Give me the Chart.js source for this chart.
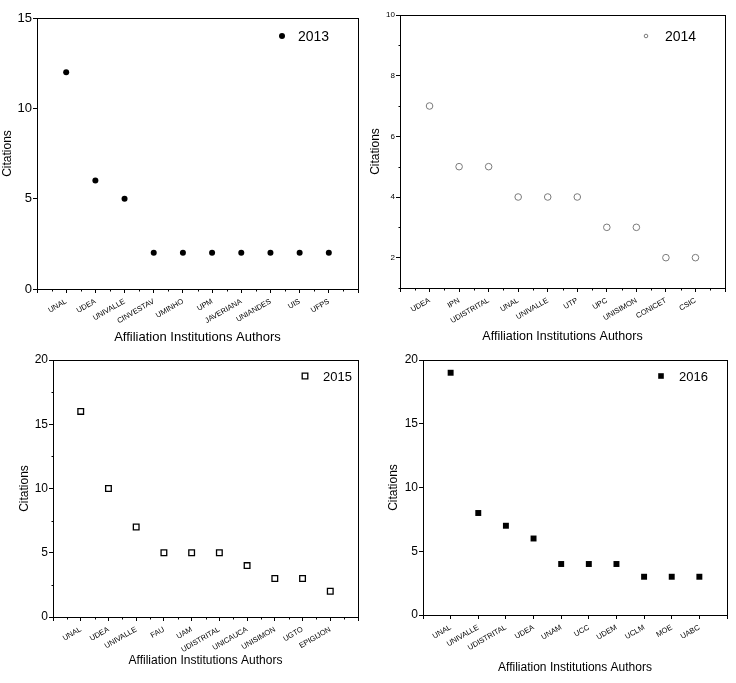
<!DOCTYPE html>
<html><head><meta charset="utf-8">
<script src="https://cdn.jsdelivr.net/npm/chart.js@4.4.1/dist/chart.umd.min.js"></script>
<style>
html,body{margin:0;padding:0;background:#fff;}
body{width:736px;height:683px;position:relative;overflow:hidden;}
canvas{position:absolute;}
</style></head><body>
<canvas id="c2013" width="368" height="345" style="left:0px;top:0px"></canvas>
<canvas id="c2014" width="368" height="345" style="left:368px;top:0px"></canvas>
<canvas id="c2015" width="368" height="338" style="left:0px;top:345px"></canvas>
<canvas id="c2016" width="368" height="338" style="left:368px;top:345px"></canvas>
<script>
// ---------- data ----------
const institutions2013 = ["UNAL","UDEA","UNIVALLE","CINVESTAV","UMINHO","UPM","JAVERIANA","UNIANDES","UIS","UFPS"];
const citations2013    = [12, 6, 5, 2, 2, 2, 2, 2, 2, 2];

const institutions2014 = ["UDEA","IPN","UDISTRITAL","UNAL","UNIVALLE","UTP","UPC","UNISIMON","CONICET","CSIC"];
const citations2014    = [7, 5, 5, 4, 4, 4, 3, 3, 2, 2];

const institutions2015 = ["UNAL","UDEA","UNIVALLE","FAU","UAM","UDISTRITAL","UNICAUCA","UNISIMON","UGTO","EPIGIJON"];
const citations2015    = [16, 10, 7, 5, 5, 5, 4, 3, 3, 2];

const institutions2016 = ["UNAL","UNIVALLE","UDISTRITAL","UDEA","UNAM","UCC","UDEM","UCLM","MOE","UABC"];
const citations2016    = [19, 8, 7, 6, 4, 4, 4, 3, 3, 3];

const yTicks2013 = [0, 5, 10, 15];
const yTicks2014 = [2, 4, 6, 8, 10];
const yTicks2015 = [0, 5, 10, 15, 20];
const yTicks2016 = [0, 5, 10, 15, 20];

const xTitle = "Affiliation Institutions Authors";
const yTitle = "Citations";
const FONT = "'Liberation Sans', Arial, Helvetica, sans-serif";

// ---------- plugins ----------
const framePlugin = {
  id: 'frameBox',
  afterDraw(chart) {
    const a = chart.chartArea, ctx = chart.ctx;
    ctx.save();
    ctx.strokeStyle = '#000'; ctx.lineWidth = 1;
    const l = Math.round(a.left) + 0.5, t = Math.round(a.top) + 0.5;
    const r = Math.round(a.right) + 0.5, b = Math.round(a.bottom) + 0.5;
    ctx.strokeRect(l, t, r - l, b - t);
    // minor ticks
    const o = chart.options.plugins.frameBox || {};
    ctx.beginPath();
    (o.minorX || []).forEach(v => {
      const x = Math.round(chart.scales.x.getPixelForValue(v)) + 0.5;
      ctx.moveTo(x, b); ctx.lineTo(x, b + (o.minorLen || 2));
    });
    (o.minorY || []).forEach(v => {
      const y = Math.round(chart.scales.y.getPixelForValue(v)) + 0.5;
      ctx.moveTo(l, y); ctx.lineTo(l - (o.minorLen || 2), y);
    });
    ctx.stroke();
    ctx.restore();
  }
};

const legendPlugin = {
  id: 'yearLegend',
  afterDraw(chart) {
    const o = chart.options.plugins.yearLegend;
    if (!o) return;
    const a = chart.chartArea, ctx = chart.ctx;
    const x = a.right - o.dx, y = a.top + o.dy;
    ctx.save();
    ctx.lineWidth = o.lineWidth || 1;
    ctx.fillStyle = o.fill; ctx.strokeStyle = o.stroke;
    ctx.beginPath();
    if (o.shape === 'circle') {
      ctx.arc(x, y, o.size, 0, Math.PI * 2);
    } else {
      ctx.rect(x - o.size, y - o.size, o.size * 2, o.size * 2);
    }
    if (o.fill !== 'transparent') ctx.fill();
    if (o.stroke !== 'transparent') ctx.stroke();
    ctx.fillStyle = '#000';
    ctx.font = o.fontSize + 'px ' + FONT;
    ctx.textAlign = 'left'; ctx.textBaseline = 'middle';
    ctx.fillText(o.text, x + o.textDx, y + 1);
    ctx.restore();
  }
};

function range(a, b, s) { const r = []; for (let v = a; v <= b + 1e-9; v += s) r.push(+v.toFixed(4)); return r; }

function makeChart(id, cfg) {
  const names = cfg.names;
  const points = cfg.values.map((v, i) => ({ x: i + 1, y: v }));
  return new Chart(document.getElementById(id), {
    type: 'scatter',
    data: { datasets: [{
      data: points,
      pointStyle: cfg.pointStyle,
      pointRadius: cfg.radius,
      pointHoverRadius: cfg.radius,
      pointBackgroundColor: cfg.fill,
      pointBorderColor: cfg.stroke,
      pointBorderWidth: cfg.borderWidth,
      showLine: false
    }]},
    options: {
      responsive: false,
      animation: false,
      events: [],
      layout: { padding: { left: 0, right: cfg.padRight, top: cfg.padTop, bottom: 0 } },
      plugins: {
        legend: { display: false },
        tooltip: { enabled: false },
        frameBox: { minorX: cfg.minorX, minorY: cfg.minorY, minorLen: 2 },
        yearLegend: cfg.legend
      },
      scales: {
        x: {
          type: 'linear', min: 0, max: names.length + 1,
          afterBuildTicks: s => { s.ticks = range(0, names.length + 1, 1).map(v => ({ value: v })); },
          afterFit: s => { s.height = cfg.xHeight; },
          ticks: {
            autoSkip: false, minRotation: cfg.rot, maxRotation: cfg.rot,
            padding: cfg.xTickPad,
            font: { family: FONT, size: cfg.xTickSize },
            color: '#000',
            callback: v => (Number.isInteger(v) && v >= 1 && v <= names.length) ? names[v - 1] : ''
          },
          grid: { display: true, drawOnChartArea: false, drawTicks: true, tickLength: 4, color: '#000', tickColor: '#000' },
          border: { display: true, color: '#000', width: 1 },
          title: { display: true, text: xTitle, color: '#000',
                   font: { family: FONT, size: cfg.xTitleSize }, padding: { top: 0, bottom: cfg.xTitlePad } }
        },
        y: {
          type: 'linear', min: cfg.yMin, max: cfg.yMax,
          afterBuildTicks: s => { s.ticks = cfg.yTicks.map(v => ({ value: v })); },
          afterFit: s => { s.width = cfg.yWidth; },
          ticks: {
            padding: 1, color: '#000',
            font: { family: FONT, size: cfg.yTickSize }
          },
          grid: { display: true, drawOnChartArea: false, drawTicks: true, tickLength: 4, color: '#000', tickColor: '#000' },
          border: { display: true, color: '#000', width: 1 },
          title: { display: true, text: yTitle, color: '#000',
                   font: { family: FONT, size: 12 }, padding: { top: cfg.yTitlePad, bottom: 0 } }
        }
      }
    },
    plugins: [framePlugin, legendPlugin]
  });
}

makeChart('c2013', {
  names: institutions2013, values: citations2013,
  pointStyle: 'circle', radius: 3, fill: '#000', stroke: '#000', borderWidth: 0,
  padRight: 10, padTop: 18, xHeight: 56, yWidth: 37,
  yMin: 0, yMax: 15, yTicks: yTicks2013, yTickSize: 13,
  minorX: range(0.5, 10.5, 1), minorY: [],
  rot: 30, xTickPad: 4, xTickSize: 7.5, xTitleSize: 13, xTitlePad: 0, yTitlePad: 0,
  legend: { text: '2013', dx: 76, dy: 18, shape: 'circle', size: 3, fill: '#000', stroke: 'transparent', textDx: 16, fontSize: 14 }
});

makeChart('c2014', {
  names: institutions2014, values: citations2014,
  pointStyle: 'circle', radius: 3.3, fill: 'transparent', stroke: '#7a7a7a', borderWidth: 1,
  padRight: 11, padTop: 15, xHeight: 57, yWidth: 32,
  yMin: 1, yMax: 10, yTicks: yTicks2014, yTickSize: 8,
  minorX: range(0.5, 10.5, 1), minorY: [1, 3, 5, 7, 9],
  rot: 30, xTickPad: 4, xTickSize: 7.5, xTitleSize: 12.5, xTitlePad: 0.5, yTitlePad: 0,
  legend: { text: '2014', dx: 79, dy: 21, shape: 'circle', size: 1.8, fill: 'transparent', stroke: '#7a7a7a', textDx: 19, fontSize: 14 }
});

makeChart('c2015', {
  names: institutions2015, values: citations2015,
  pointStyle: 'rect', radius: 4, fill: '#fff', stroke: '#000', borderWidth: 1.3,
  padRight: 10, padTop: 15, xHeight: 66, yWidth: 53,
  yMin: 0, yMax: 20, yTicks: yTicks2015, yTickSize: 12,
  minorX: range(0.5, 10.5, 1), minorY: [2.5, 7.5, 12.5, 17.5],
  rot: 30, xTickPad: 4, xTickSize: 7.5, xTitleSize: 12, xTitlePad: 15, yTitlePad: 17,
  legend: { text: '2015', dx: 53, dy: 16, shape: 'rect', size: 2.8, fill: '#fff', stroke: '#000', lineWidth: 1.3, textDx: 18, fontSize: 13 }
});

makeChart('c2016', {
  names: institutions2016, values: citations2016,
  pointStyle: 'rect', radius: 4.2, fill: '#000', stroke: '#000', borderWidth: 0,
  padRight: 9, padTop: 15, xHeight: 68, yWidth: 55,
  yMin: 0, yMax: 20, yTicks: yTicks2016, yTickSize: 12,
  minorX: [], minorY: [],
  rot: 30, xTickPad: 4, xTickSize: 7.5, xTitleSize: 12, xTitlePad: 8, yTitlePad: 18,
  legend: { text: '2016', dx: 66, dy: 16, shape: 'rect', size: 2.8, fill: '#000', stroke: 'transparent', textDx: 18, fontSize: 13 }
});
</script>
</body></html>
